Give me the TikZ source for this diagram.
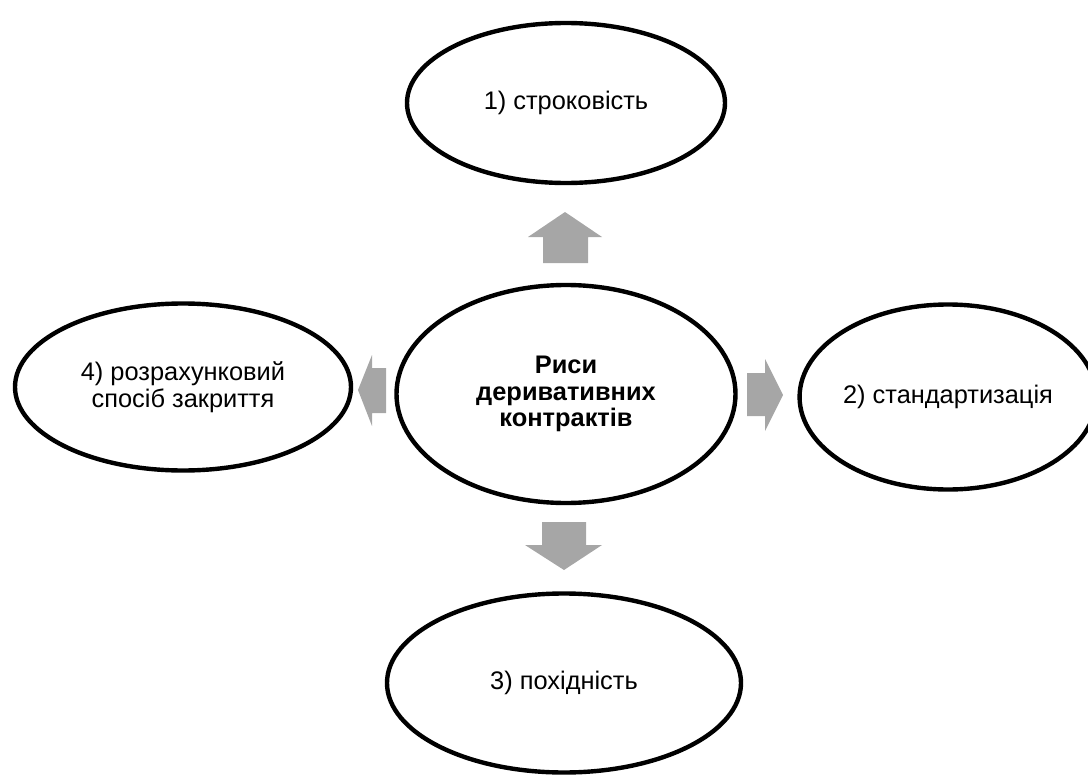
\documentclass[tikz,border=0pt]{standalone}
\usepackage{fontspec}
\setmainfont{Liberation Sans}
\definecolor{ArrowGray}{RGB}{166,166,166}
\usetikzlibrary{shapes.geometric,positioning}

\begin{document}
\begin{tikzpicture}[x=0.5pt,y=-0.5pt,
  oval/.style={ellipse,draw,line width=2.2pt,inner sep=0pt,align=center,
    font=\fontsize{12.7}{13.3}\selectfont},
  blockarrow/.style={fill=ArrowGray}]
\useasboundingbox (0,0) rectangle (1088,776);
% centre and the four features
\node[oval,minimum width=169.5pt,minimum height=109pt] (core) at (566,394)
  {\bfseries Риси\\\bfseries деривативних\\\bfseries контрактів};
\node[oval,minimum width=159pt,minimum height=80pt] (term) at (566,103) {1) строковість};
\node[oval,minimum width=144pt,minimum height=92.5pt] (std) at (948,397) {2) стандартизація};
\node[oval,minimum width=177pt,minimum height=89.5pt] (deriv) at (564,683) {3) похідність};
\node[oval,minimum width=168pt,minimum height=83.5pt] (settle) at (183,387)
  {4) розрахунковий\\спосіб закриття};
% block arrows
\fill[blockarrow] (543,263) -- (543,237) -- (528,237) -- (565,212) -- (602,237) -- (588,237) -- (588,263) -- cycle;
\fill[blockarrow] (747,373) -- (765,373) -- (765,359) -- (783,395) -- (765,431) -- (765,416) -- (747,416) -- cycle;
\fill[blockarrow] (542,522) -- (586,522) -- (586,545) -- (602,545) -- (564,570) -- (525,545) -- (542,545) -- cycle;
\fill[blockarrow] (386,368) -- (372,368) -- (372,355) -- (358,390) -- (372,426) -- (372,413) -- (386,413) -- cycle;
\end{tikzpicture}
\end{document}
